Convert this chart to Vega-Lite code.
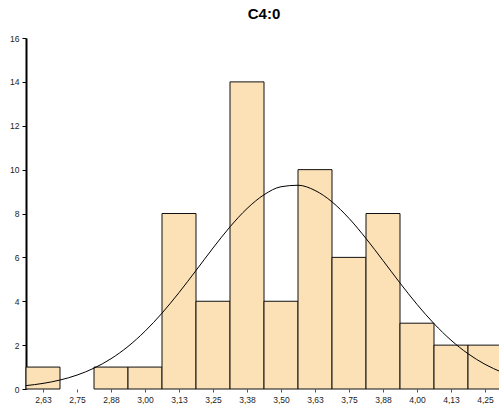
{
  "$schema": "https://vega.github.io/schema/vega-lite/v6.json",
  "width": 476,
  "height": 351,
  "autosize": {"type": "none"},
  "padding": {"left": 26, "top": 38, "right": 0, "bottom": 21},
  "title": {
    "text": "C4:0",
    "font": "Liberation Sans",
    "fontSize": 15,
    "fontWeight": "bold",
    "color": "#000000",
    "anchor": "middle",
    "offset": 12
  },
  "config": {
    "view": {"stroke": null},
    "axis": {
      "labelFont": "Liberation Sans",
      "labelFontSize": 8.5,
      "labelColor": "#222222",
      "grid": false,
      "title": null
    }
  },
  "datasets": {
    "bins": [
      {"lo": 2.5625, "hi": 2.6875, "n": 1},
      {"lo": 2.6875, "hi": 2.8125, "n": 0},
      {"lo": 2.8125, "hi": 2.9375, "n": 1},
      {"lo": 2.9375, "hi": 3.0625, "n": 1},
      {"lo": 3.0625, "hi": 3.1875, "n": 8},
      {"lo": 3.1875, "hi": 3.3125, "n": 4},
      {"lo": 3.3125, "hi": 3.4375, "n": 14},
      {"lo": 3.4375, "hi": 3.5625, "n": 4},
      {"lo": 3.5625, "hi": 3.6875, "n": 10},
      {"lo": 3.6875, "hi": 3.8125, "n": 6},
      {"lo": 3.8125, "hi": 3.9375, "n": 8},
      {"lo": 3.9375, "hi": 4.0625, "n": 3},
      {"lo": 4.0625, "hi": 4.1875, "n": 2},
      {"lo": 4.1875, "hi": 4.3125, "n": 2}
    ],
    "curve": [
      {"x": 2.5625, "y": 0.154},
      {"x": 2.625, "y": 0.255},
      {"x": 2.6875, "y": 0.409},
      {"x": 2.75, "y": 0.634},
      {"x": 2.8125, "y": 0.951},
      {"x": 2.875, "y": 1.38},
      {"x": 2.9375, "y": 1.938},
      {"x": 3.0, "y": 2.633},
      {"x": 3.0625, "y": 3.458},
      {"x": 3.125, "y": 4.394},
      {"x": 3.1875, "y": 5.402},
      {"x": 3.25, "y": 6.426},
      {"x": 3.3125, "y": 7.392},
      {"x": 3.375, "y": 8.225},
      {"x": 3.4375, "y": 8.854},
      {"x": 3.5, "y": 9.22},
      {"x": 3.5625, "y": 9.288},
      {"x": 3.625, "y": 9.051},
      {"x": 3.6875, "y": 8.531},
      {"x": 3.75, "y": 7.779},
      {"x": 3.8125, "y": 6.862},
      {"x": 3.875, "y": 5.855},
      {"x": 3.9375, "y": 4.832},
      {"x": 4.0, "y": 3.858},
      {"x": 4.0625, "y": 2.98},
      {"x": 4.125, "y": 2.226},
      {"x": 4.1875, "y": 1.609},
      {"x": 4.25, "y": 1.125},
      {"x": 4.3125, "y": 0.761}
    ]
  },
  "layer": [
    {
      "data": {"name": "bins"},
      "transform": [{"filter": "datum.n > 0"}],
      "mark": {"type": "rect", "fill": "#FBE1B5", "stroke": "#111111", "strokeWidth": 1},
      "encoding": {
        "x": {
          "field": "lo",
          "type": "quantitative",
          "scale": {"domain": [2.5625, 4.3125], "nice": false, "zero": false},
          "axis": {
            "values": [2.625, 2.75, 2.875, 3.0, 3.125, 3.25, 3.375, 3.5, 3.625, 3.75, 3.875, 4.0, 4.125, 4.25],
            "tickCount": 40,
            "labelExpr": "replace(format(datum.value, '.2f'), '.', ',')",
            "labelOverlap": false,
            "labelFlush": false,
            "labelBound": false,
            "domain": false,
            "ticks": true,
            "tickSize": 3,
            "tickColor": "#555555",
            "labelPadding": 3
          }
        },
        "x2": {"field": "hi"},
        "y": {
          "field": "n",
          "type": "quantitative",
          "scale": {"domain": [0, 16], "nice": false},
          "axis": {
            "values": [0, 2, 4, 6, 8, 10, 12, 14, 16],
            "tickCount": 20,
            "domainColor": "#000000",
            "domainWidth": 2,
            "tickColor": "#000000",
            "tickSize": 4,
            "labelPadding": 3
          }
        },
        "y2": {"datum": 0}
      }
    },
    {
      "data": {"name": "curve"},
      "mark": {"type": "line", "color": "#000000", "strokeWidth": 1, "interpolate": "monotone"},
      "encoding": {
        "x": {"field": "x", "type": "quantitative"},
        "y": {"field": "y", "type": "quantitative"}
      }
    },
    {
      "mark": {"type": "rule", "color": "#000000", "strokeWidth": 1.5},
      "encoding": {"y": {"datum": 16}}
    }
  ]
}
